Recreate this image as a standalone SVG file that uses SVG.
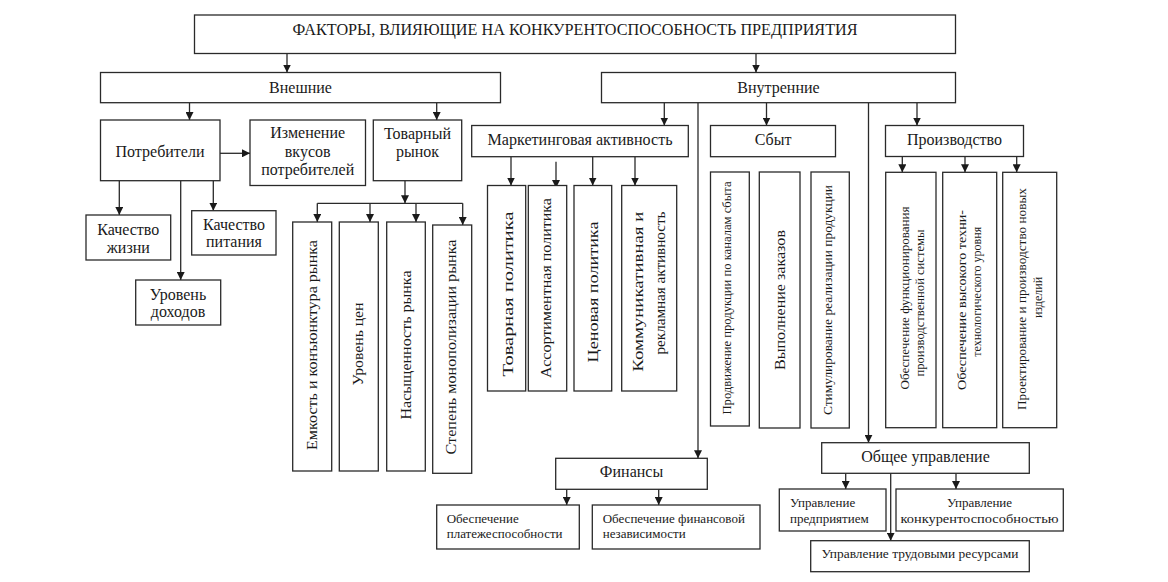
<svg xmlns="http://www.w3.org/2000/svg" width="1168" height="582" viewBox="0 0 1168 582">
<style>
.box{fill:#fff;stroke:#2a2a2a;stroke-width:1.3}
.t{font-family:"Liberation Serif","Times New Roman",serif;fill:#1a1a1a;font-size:16px;text-anchor:middle}
.r{font-size:14.5px}
.s{font-size:12px}
.m{font-size:13px}
.l{text-anchor:start}
.c{stroke:#2a2a2a;stroke-width:1.3;fill:none}
</style>
<defs>
<marker id="ah" viewBox="0 0 10 10" refX="10" refY="5" markerUnits="userSpaceOnUse" markerWidth="8" markerHeight="8" orient="auto">
<path d="M0,0 L10,5 L0,10 z" fill="#1a1a1a"/>
</marker>
</defs>
<rect width="1168" height="582" fill="#fff"/>

<g id="connectors">
<path class="c" marker-end="url(#ah)" d="M287,53.5 V72.5"/>
<path class="c" marker-end="url(#ah)" d="M756,53.5 V72.5"/>
<path class="c" marker-end="url(#ah)" d="M189.5,102.7 V120"/>
<path class="c" marker-end="url(#ah)" d="M436.7,102.7 V120"/>
<path class="c" marker-end="url(#ah)" d="M220,153.3 H250"/>
<path class="c" marker-end="url(#ah)" d="M119.3,180.7 V215"/>
<path class="c" marker-end="url(#ah)" d="M180.7,180.7 V280"/>
<path class="c" marker-end="url(#ah)" d="M213.3,180.7 V210.7"/>
<path class="c" marker-end="url(#ah)" d="M405,180.7 V203.3"/>
<path class="c" d="M317.3,203.3 H462.7"/>
<path class="c" marker-end="url(#ah)" d="M317.3,203.3 V222"/>
<path class="c" marker-end="url(#ah)" d="M370,203.3 V222"/>
<path class="c" marker-end="url(#ah)" d="M416,203.3 V222"/>
<path class="c" marker-end="url(#ah)" d="M462.7,203.3 V225"/>
<path class="c" marker-end="url(#ah)" d="M664.3,102.7 V125.5"/>
<path class="c" marker-end="url(#ah)" d="M766.5,102.7 V125.5"/>
<path class="c" marker-end="url(#ah)" d="M917,102.7 V125.5"/>
<path class="c" marker-end="url(#ah)" d="M698,102.7 V458.3"/>
<path class="c" marker-end="url(#ah)" d="M868.5,102.7 V442.7"/>
<path class="c" marker-end="url(#ah)" d="M511,156.7 V185.5"/>
<path class="c" marker-end="url(#ah)" d="M556,161.7 V188"/>
<path class="c" marker-end="url(#ah)" d="M592.7,156.7 V185.5"/>
<path class="c" marker-end="url(#ah)" d="M635,156.7 V185.5"/>
<path class="c" marker-end="url(#ah)" d="M902.3,156.5 V172.3"/>
<path class="c" marker-end="url(#ah)" d="M965,156.5 V172.3"/>
<path class="c" marker-end="url(#ah)" d="M1016.7,156.5 V172.3"/>
<path class="c" marker-end="url(#ah)" d="M566.7,489.3 V505"/>
<path class="c" marker-end="url(#ah)" d="M658.7,489.3 V505"/>
<path class="c" marker-end="url(#ah)" d="M845.7,473.3 V489"/>
<path class="c" marker-end="url(#ah)" d="M956,473.3 V489"/>
<path class="c" marker-end="url(#ah)" d="M890.7,471 V540.7"/>
</g>

<g id="title"><rect class="box" x="194.5" y="15" width="761" height="38.5"/>
<text class="t" x="575" y="35" textLength="565" lengthAdjust="spacingAndGlyphs">ФАКТОРЫ, ВЛИЯЮЩИЕ НА КОНКУРЕНТОСПОСОБНОСТЬ ПРЕДПРИЯТИЯ</text></g>

<g id="external"><rect class="box" x="100.5" y="72.5" width="400" height="30.2"/>
<text class="t" x="300.5" y="93">Внешние</text></g>

<g id="internal"><rect class="box" x="601.5" y="72.5" width="354" height="30.2"/>
<text class="t" x="778.5" y="93">Внутренние</text></g>

<g id="consumers"><rect class="box" x="100.5" y="120" width="119.5" height="60.7"/>
<text class="t" x="160" y="157">Потребители</text></g>

<g id="tastes"><rect class="box" x="250" y="120" width="115.5" height="65.5"/>
<text class="t" x="307.7" y="138">Изменение</text>
<text class="t" x="307.7" y="156.5">вкусов</text>
<text class="t" x="307.7" y="175">потребителей</text></g>

<g id="market"><rect class="box" x="373.3" y="120" width="88.4" height="60.7"/>
<text class="t" x="417.5" y="139">Товарный</text>
<text class="t" x="417.5" y="157">рынок</text></g>

<g id="marketing"><rect class="box" x="471.7" y="125.5" width="216.6" height="31.2"/>
<text class="t" x="580" y="145" textLength="185" lengthAdjust="spacingAndGlyphs">Маркетинговая активность</text></g>

<g id="sales"><rect class="box" x="710.5" y="125.5" width="125" height="31.2"/>
<text class="t" x="773" y="145">Сбыт</text></g>

<g id="production"><rect class="box" x="885.5" y="125.5" width="138" height="31"/>
<text class="t" x="954.5" y="145">Производство</text></g>

<g id="quality-life"><rect class="box" x="86" y="215" width="84.7" height="45"/>
<text class="t" x="128.3" y="235">Качество</text>
<text class="t" x="128.3" y="253">жизни</text></g>

<g id="quality-food"><rect class="box" x="191.7" y="210.7" width="84.3" height="44.3"/>
<text class="t" x="234" y="230">Качество</text>
<text class="t" x="234" y="247">питания</text></g>

<g id="income"><rect class="box" x="135.7" y="280" width="85" height="45"/>
<text class="t" x="178" y="300">Уровень</text>
<text class="t" x="178" y="317">доходов</text></g>

<g id="m1"><rect class="box" x="292.7" y="222" width="39" height="249"/>
<text class="t r" transform="translate(312.3,345) rotate(-90)" x="0" y="4.5" textLength="210" lengthAdjust="spacingAndGlyphs">Емкость и конъюнктура рынка</text></g>
<g id="m2"><rect class="box" x="339.3" y="222" width="39" height="249"/>
<text class="t r" transform="translate(358.3,344) rotate(-90)" x="0" y="4.5" textLength="83" lengthAdjust="spacingAndGlyphs">Уровень цен</text></g>
<g id="m3"><rect class="box" x="386.7" y="222" width="38.6" height="249"/>
<text class="t r" transform="translate(406,345) rotate(-90)" x="0" y="4.5" textLength="149" lengthAdjust="spacingAndGlyphs">Насыщенность рынка</text></g>
<g id="m4"><rect class="box" x="432.7" y="225" width="39" height="248.3"/>
<text class="t r" transform="translate(451.7,347) rotate(-90)" x="0" y="4.5" textLength="215" lengthAdjust="spacingAndGlyphs">Степень монополизации рынка</text></g>

<g id="k1"><rect class="box" x="487.5" y="185.5" width="38.2" height="205.5"/>
<text class="t r" transform="translate(508.3,294) rotate(-90)" x="0" y="4.5" textLength="165" lengthAdjust="spacingAndGlyphs">Товарная политика</text></g>
<g id="k2"><rect class="box" x="528.3" y="185.5" width="38.4" height="205.5"/>
<text class="t r" transform="translate(546.7,288) rotate(-90)" x="0" y="4.5" textLength="180" lengthAdjust="spacingAndGlyphs">Ассортиментная политика</text></g>
<g id="k3"><rect class="box" x="574" y="185.5" width="37.7" height="205.5"/>
<text class="t r" transform="translate(593,292) rotate(-90)" x="0" y="4.5" textLength="141" lengthAdjust="spacingAndGlyphs">Ценовая политика</text></g>
<g id="k4"><rect class="box" x="621.7" y="185.5" width="55" height="205.5"/>
<text class="t r" transform="translate(638.3,291.7) rotate(-90)" x="0" y="4.5" textLength="160" lengthAdjust="spacingAndGlyphs">Коммуникативная и</text>
<text class="t r" transform="translate(660,283) rotate(-90)" x="0" y="4.5" textLength="143" lengthAdjust="spacingAndGlyphs">рекламная активность</text></g>

<g id="s1"><rect class="box" x="710.5" y="172" width="38.8" height="254"/>
<text class="t s" transform="translate(727.3,298) rotate(-90)" x="0" y="4" textLength="233" lengthAdjust="spacingAndGlyphs">Продвижение продукции по каналам сбыта</text></g>
<g id="s2"><rect class="box" x="759.3" y="172" width="40.7" height="256"/>
<text class="t r" transform="translate(780,300) rotate(-90)" x="0" y="4.5" textLength="140" lengthAdjust="spacingAndGlyphs">Выполнение заказов</text></g>
<g id="s3"><rect class="box" x="811" y="172" width="38.3" height="256"/>
<text class="t s" transform="translate(828.3,300) rotate(-90)" x="0" y="4" textLength="230" lengthAdjust="spacingAndGlyphs">Стимулирование реализации продукции</text></g>

<g id="p1"><rect class="box" x="885.7" y="172.3" width="50.3" height="255.4"/>
<text class="t s" transform="translate(905,298) rotate(-90)" x="0" y="4" textLength="183" lengthAdjust="spacingAndGlyphs">Обеспечение функционирования</text>
<text class="t s" transform="translate(920,303) rotate(-90)" x="0" y="4" textLength="147" lengthAdjust="spacingAndGlyphs">производственной системы</text></g>
<g id="p2"><rect class="box" x="942.7" y="172.3" width="54" height="255.4"/>
<text class="t s" transform="translate(961.7,300) rotate(-90)" x="0" y="4" textLength="180" lengthAdjust="spacingAndGlyphs">Обеспечение высокого техни-</text>
<text class="t s" transform="translate(976.7,291.7) rotate(-90)" x="0" y="4" textLength="130" lengthAdjust="spacingAndGlyphs">технологического уровня</text></g>
<g id="p3"><rect class="box" x="1002.7" y="172.3" width="54" height="255.4"/>
<text class="t s" transform="translate(1021.7,299) rotate(-90)" x="0" y="4" textLength="222" lengthAdjust="spacingAndGlyphs">Проектирование и производство новых</text>
<text class="t s" transform="translate(1038.3,297.5) rotate(-90)" x="0" y="4">изделий</text></g>

<g id="finance"><rect class="box" x="555.7" y="458.3" width="151.6" height="31"/>
<text class="t" x="631.5" y="476.7">Финансы</text></g>
<g id="solvency"><rect class="box" x="436.7" y="505" width="142.6" height="44"/>
<text class="t m l" x="446.7" y="523.3">Обеспечение</text>
<text class="t m l" x="446.7" y="538.3">платежеспособности</text></g>
<g id="fin-indep"><rect class="box" x="592.3" y="505" width="167.7" height="44"/>
<text class="t m l" x="602.7" y="523.3">Обеспечение финансовой</text>
<text class="t m l" x="602.7" y="538.3">независимости</text></g>

<g id="management"><rect class="box" x="821.7" y="442.7" width="207.6" height="30.6"/>
<text class="t" x="925.5" y="461.7">Общее управление</text></g>
<g id="enterprise"><rect class="box" x="779.3" y="489" width="106.7" height="42"/>
<text class="t m l" x="790" y="507">Управление</text>
<text class="t m l" x="790" y="523.3">предприятием</text></g>
<g id="competitiveness"><rect class="box" x="896" y="489" width="167.3" height="42"/>
<text class="t m" x="979.5" y="507">Управление</text>
<text class="t m" x="979.5" y="523.3" textLength="158" lengthAdjust="spacingAndGlyphs">конкурентоспособностью</text></g>
<g id="labour"><rect class="box" x="810.7" y="540.7" width="218.6" height="31"/>
<text class="t m" x="920" y="558.3" textLength="197" lengthAdjust="spacingAndGlyphs">Управление трудовыми ресурсами</text></g>
</svg>
